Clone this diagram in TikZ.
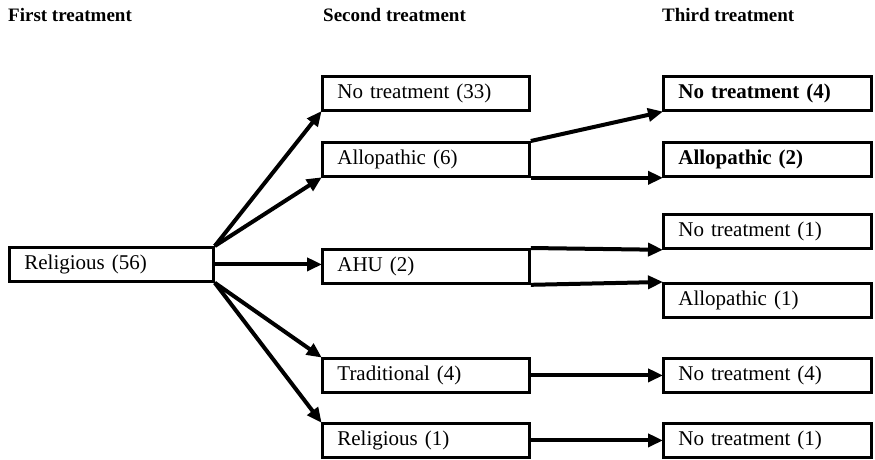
\documentclass[tikz,border=0pt]{standalone}
\usepackage{fontspec}
\setmainfont{Liberation Serif}
\usetikzlibrary{arrows.meta}
\tikzset{
  box/.style={draw, line width=2.8pt, rectangle, anchor=north west, minimum height=34pt,
    inner xsep=15pt, inner ysep=0pt, align=left, font=\fontsize{21}{23}\selectfont},
  col1/.style={box, minimum width=204pt, text width=174pt},
  col2/.style={box, minimum width=207pt, text width=177pt},
  col3/.style={box, minimum width=208pt, text width=178pt},
  hdr/.style={anchor=base west, inner sep=0pt, font=\fontsize{19}{21}\selectfont\bfseries},
  conn/.style={line width=4pt, -{Triangle[length=15pt,width=13pt]}, shorten >=-1pt},
}
\begin{document}
\begin{tikzpicture}[x=1pt, y=-1pt]
\useasboundingbox (0,0) rectangle (875,459);
% headers
\node[hdr] (h1) at (8,21) {First treatment};
\node[hdr] (h2) at (323,21) {Second treatment};
\node[hdr] (h3) at (662,21) {Third treatment};
% first column
\node[col1] (rel56) at (8,246) {Religious (56)};
% second column
\node[col2] (nt33) at (321,75) {No treatment (33)};
\node[col2] (allo6) at (321,141) {Allopathic (6)};
\node[col2] (ahu2) at (321,248) {AHU (2)};
\node[col2] (trad4) at (321,357) {Traditional (4)};
\node[col2] (rel1) at (321,422) {Religious (1)};
% third column
\node[col3, font=\fontsize{21}{23}\selectfont\bfseries] (nt4a) at (662,75) {No treatment (4)};
\node[col3, font=\fontsize{21}{23}\selectfont\bfseries] (allo2) at (662,141) {Allopathic (2)};
\node[col3] (nt1a) at (662,213) {No treatment (1)};
\node[col3] (allo1) at (662,282) {Allopathic (1)};
\node[col3] (nt4b) at (662,357) {No treatment (4)};
\node[col3] (nt1b) at (662,422) {No treatment (1)};
% connectors from first column
\draw[conn] (rel56.north east) -- (nt33.south west);
\draw[conn] (rel56.north east) -- (allo6.south west);
\draw[conn] (rel56.east) -- (rel56.east -| ahu2.west);
\draw[conn] (rel56.south east) -- (trad4.north west);
\draw[conn] (rel56.south east) -- (rel1.north west);
% connectors from second column
\draw[conn] (allo6.north east) -- (nt4a.south west);
\draw[conn] (allo6.south east) -- (allo2.south west);
\draw[conn] (ahu2.north east) -- (nt1a.south west);
\draw[conn] (ahu2.south east) -- (allo1.north west);
\draw[conn] (trad4.east) -- (nt4b.west);
\draw[conn] (rel1.east) -- (nt1b.west);
\end{tikzpicture}
\end{document}
